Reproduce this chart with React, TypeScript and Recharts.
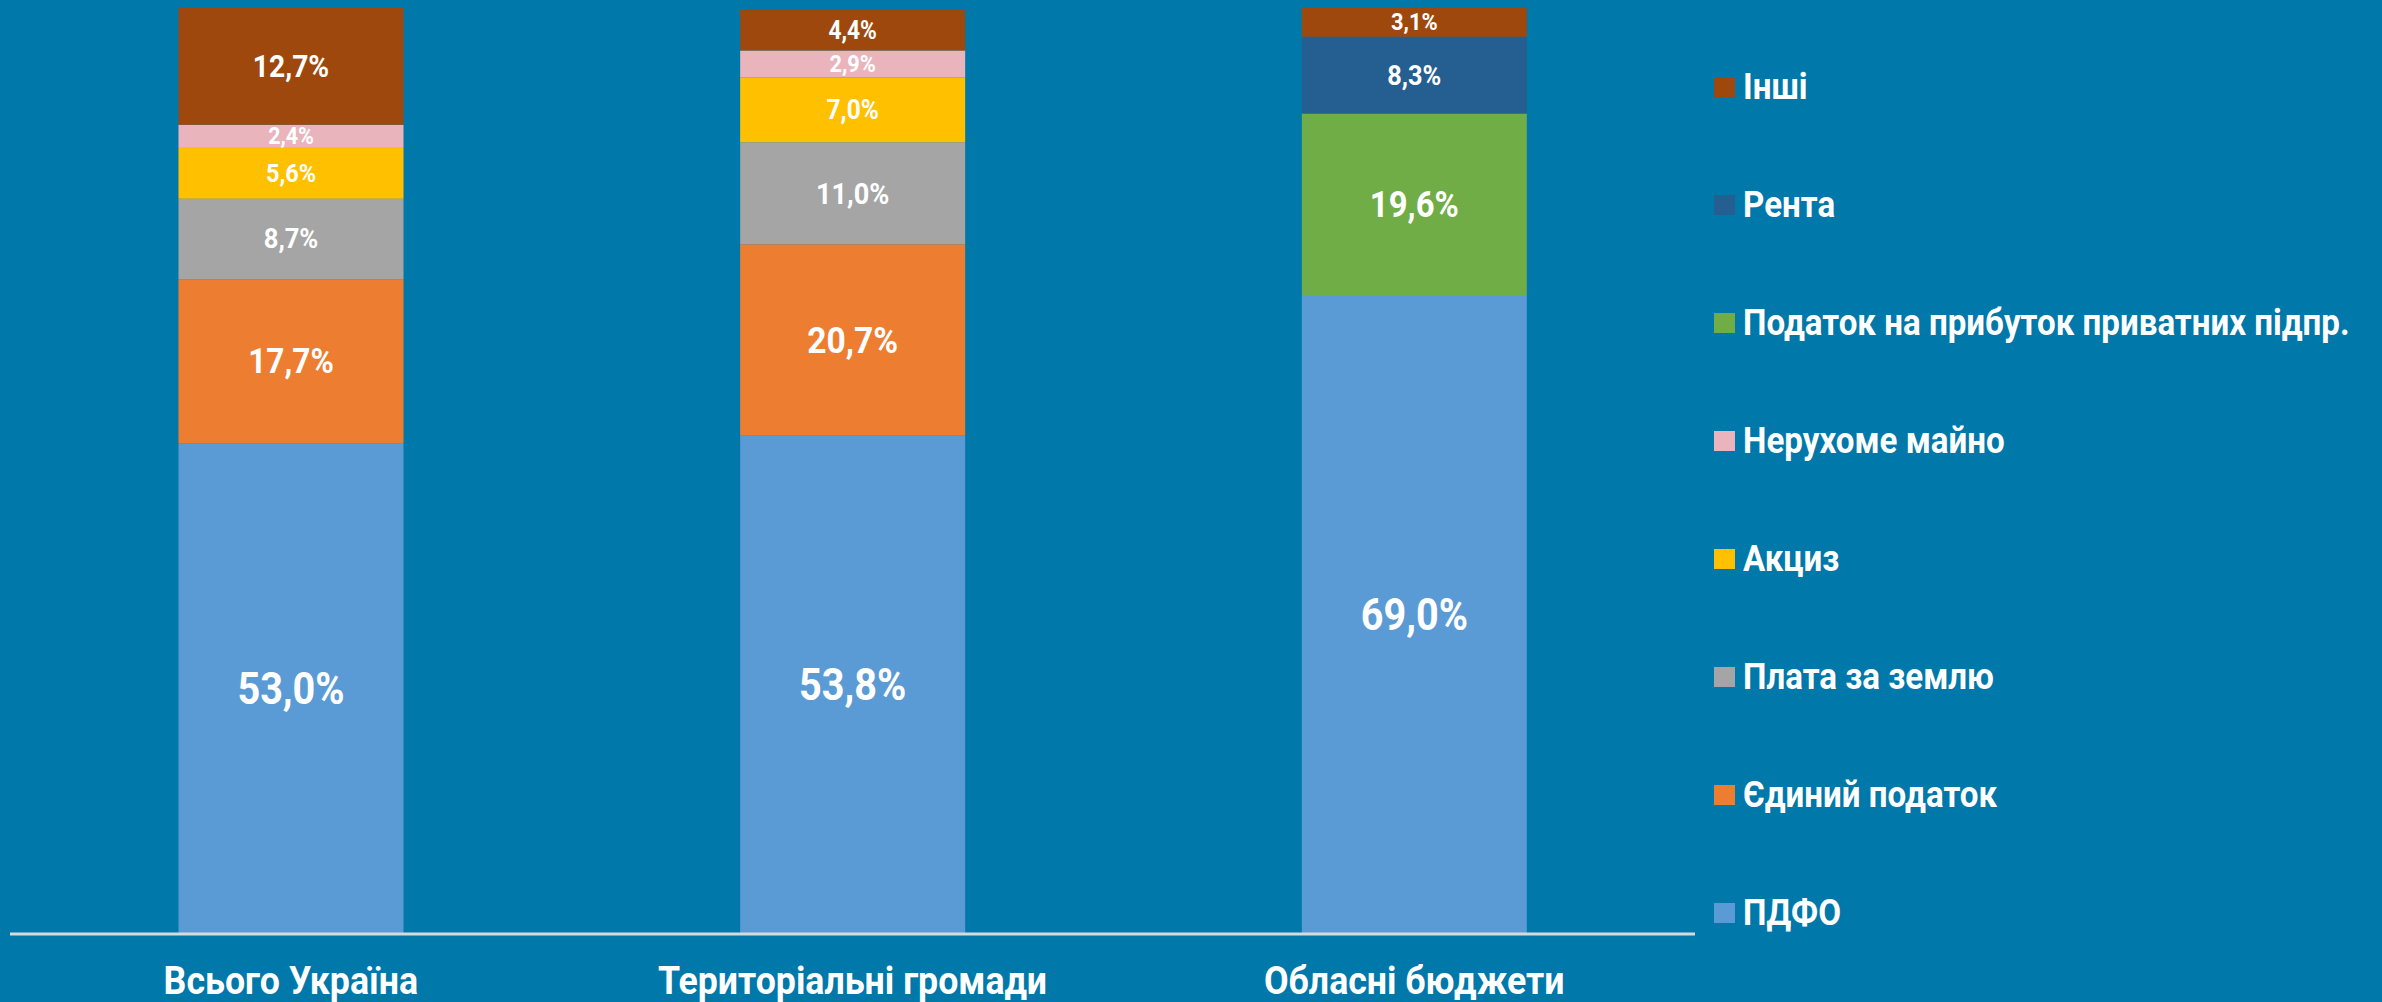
import React from "react";
import { BarChart, Bar, XAxis, YAxis, LabelList } from "recharts";

const categories = ["Всього Україна", "Територіальні громади", "Обласні бюджети"];
const pdfo = [53.0, 53.8, 69.0];
const singleTax = [17.7, 20.7, 0];
const landFee = [8.7, 11.0, 0];
const excise = [5.6, 7.0, 0];
const realEstate = [2.4, 2.9, 0];
const profitTax = [0, 0, 19.6];
const rent = [0, 0, 8.3];
const other = [12.7, 4.4, 3.1];

// stack order bottom -> top
const SERIES = [
  { key: "pdfo", name: "ПДФО", values: pdfo, color: "#5B9BD5" },
  { key: "single", name: "Єдиний податок", values: singleTax, color: "#ED7D31" },
  { key: "land", name: "Плата за землю", values: landFee, color: "#A5A5A5" },
  { key: "excise", name: "Акциз", values: excise, color: "#FFC000" },
  { key: "realEstate", name: "Нерухоме майно", values: realEstate, color: "#EAB4BD" },
  { key: "profit", name: "Податок на прибуток приватних підпр.", values: profitTax, color: "#70AD47" },
  { key: "rent", name: "Рента", values: rent, color: "#255E91" },
  { key: "other", name: "Інші", values: other, color: "#9E480E" },
];

const FONT = "Roboto, 'Noto Sans', sans-serif";
const BG = "#0078AA";

const chartData = categories.map((c, i) => {
  const row: Record<string, string | number> = { name: c };
  SERIES.forEach((s) => (row[s.key] = s.values[i]));
  return row;
});

const fmt = (v: number) => v.toFixed(1).replace(".", ",") + "%";

function SegmentLabel(props: any) {
  const { x, y, width, height, value } = props;
  if (!value) return null;
  const size = Math.min(44, 22 + height * 0.08);
  return (
    <g transform={`translate(${x + width / 2},${y + height / 2}) scale(0.9,1)`}>
      <text textAnchor="middle" dominantBaseline="central" fill="#fff" fontFamily={FONT} fontWeight="bold" fontSize={size}>
        {fmt(value)}
      </text>
    </g>
  );
}

function CategoryTick(props: any) {
  const { x, y, payload } = props;
  return (
    <g transform={`translate(${x},${y + 39}) scale(0.94,1)`}>
      <text textAnchor="middle" dominantBaseline="central" fill="#fff" fontFamily={FONT} fontWeight="bold" fontSize={38}>
        {payload.value}
      </text>
    </g>
  );
}

function LegendBox() {
  return (
    <div style={{ position: "absolute", left: 1714, top: 28, display: "flex", flexDirection: "column", fontFamily: FONT }}>
      {[...SERIES].reverse().map((s) => (
        <div key={s.key} style={{ height: 118, display: "flex", alignItems: "center" }}>
          <span style={{ width: 21, height: 20, background: s.color, marginRight: 8, flexShrink: 0 }} />
          <span
            style={{
              color: "#fff",
              fontWeight: "bold",
              fontSize: 36,
              whiteSpace: "nowrap",
              display: "inline-block",
              transform: "scaleX(0.92)",
              transformOrigin: "left center",
            }}
          >
            {s.name}
          </span>
        </div>
      ))}
    </div>
  );
}

export default function App() {
  return (
    <div style={{ position: "absolute", left: 0, top: 0, width: 2382, height: 1002, background: BG, overflow: "hidden" }}>
      <BarChart
        width={2382}
        height={1002}
        data={chartData}
        margin={{ top: 8, right: 687, bottom: 0, left: 10 }}
        barCategoryGap="30%"
      >
        <XAxis
          dataKey="name"
          height={68}
          axisLine={{ stroke: "#D9D9D9", strokeWidth: 3 }}
          tickLine={false}
          tick={<CategoryTick />}
          interval={0}
        />
        <YAxis hide domain={[0, 100]} allowDataOverflow />
        {SERIES.map((s) => (
          <Bar key={s.key} dataKey={s.key} name={s.name} stackId="a" fill={s.color} isAnimationActive={false}>
            <LabelList dataKey={s.key} content={<SegmentLabel />} />
          </Bar>
        ))}
      </BarChart>
      <LegendBox />
    </div>
  );
}
